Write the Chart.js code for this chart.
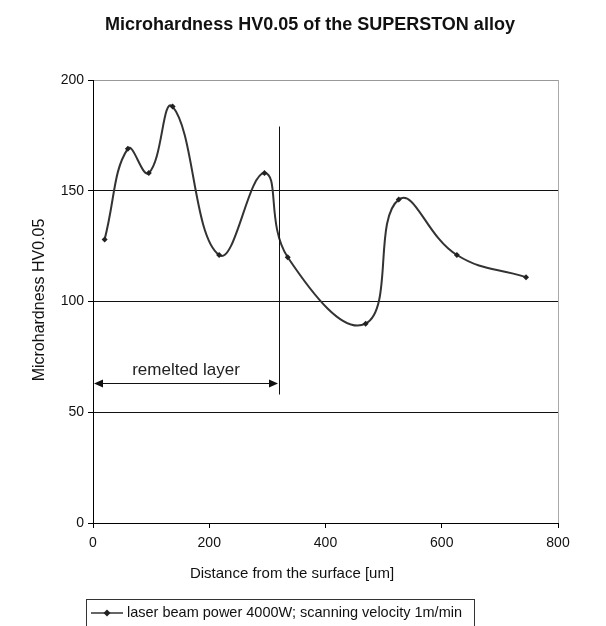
<!DOCTYPE html>
<html>
<head>
<meta charset="utf-8">
<script src="https://cdn.jsdelivr.net/npm/chart.js@4"></script>
<style>
  html, body { margin: 0; padding: 0; background: #fff; }
  #wrap { width: 606px; height: 626px; }
</style>
</head>
<body>
<div id="wrap"><canvas id="hvChart" width="606" height="626"></canvas></div>
<script>
// measured points: distance from surface [um] / microhardness HV0.05
const distance = [20, 60, 96, 137, 217, 295, 335, 469, 526, 626, 745];
const hardness = [128, 169, 158, 188, 121, 158, 120, 90, 146, 121, 111];

const xTicks = [0, 200, 400, 600, 800];
const yTicks = [0, 50, 100, 150, 200];

// remelted layer marker
const layerDepth = 320;
const layerLineTop = 179;
const layerLineBottom = 58;
const layerArrowY = 63;
const layerLabel = 'remelted layer';

const titleText = 'Microhardness HV0.05 of the SUPERSTON alloy';
const xTitle = 'Distance from the surface [um]';
const yTitle = 'Microhardness HV0.05';
const seriesLabel = 'laser beam power 4000W; scanning velocity 1m/min';

const FONT = 'Liberation Sans, Arial, sans-serif';

const decorPlugin = {
    id: 'decor',
    afterDatasetsDraw(chart) {
        const { ctx, scales: { x, y } } = chart;
        const xl = x.getPixelForValue(layerDepth);
        const x0 = x.getPixelForValue(0);
        const ya = y.getPixelForValue(layerArrowY);
        ctx.save();
        ctx.strokeStyle = '#111';
        ctx.fillStyle = '#111';
        ctx.lineWidth = 1;
        ctx.beginPath();
        ctx.moveTo(Math.round(xl) + 0.5, y.getPixelForValue(layerLineTop));
        ctx.lineTo(Math.round(xl) + 0.5, y.getPixelForValue(layerLineBottom));
        ctx.stroke();
        ctx.beginPath();
        ctx.moveTo(x0 + 2, Math.round(ya) + 0.5);
        ctx.lineTo(xl - 2, Math.round(ya) + 0.5);
        ctx.stroke();
        ctx.beginPath();
        ctx.moveTo(x0 + 1, ya); ctx.lineTo(x0 + 10, ya - 4); ctx.lineTo(x0 + 10, ya + 4); ctx.closePath(); ctx.fill();
        ctx.beginPath();
        ctx.moveTo(xl - 1, ya); ctx.lineTo(xl - 10, ya - 4); ctx.lineTo(xl - 10, ya + 4); ctx.closePath(); ctx.fill();
        ctx.font = '17px ' + FONT;
        ctx.textAlign = 'center';
        ctx.textBaseline = 'bottom';
        ctx.fillStyle = '#222';
        ctx.fillText(layerLabel, (x0 + xl) / 2, ya - 5);
        ctx.restore();
    },
    afterDraw(chart) {
        const { ctx } = chart;
        ctx.save();
        ctx.fillStyle = '#111';
        ctx.textAlign = 'center';
        ctx.textBaseline = 'middle';
        // title
        ctx.font = 'bold 18px ' + FONT;
        ctx.fillText(titleText, 310, 25);
        // axis titles
        ctx.font = '15px ' + FONT;
        ctx.fillText(xTitle, 292, 574);
        ctx.save();
        ctx.translate(40, 300);
        ctx.rotate(-Math.PI / 2);
        ctx.font = '16px ' + FONT;
        ctx.fillText(yTitle, 0, 0);
        ctx.restore();
        // legend box
        const lx = 86, ly = 599, lw = 388, lh = 30;
        ctx.strokeStyle = '#333';
        ctx.lineWidth = 1;
        ctx.strokeRect(lx + 0.5, ly + 0.5, lw, lh);
        const my = 613;
        ctx.lineWidth = 1.5;
        ctx.beginPath(); ctx.moveTo(lx + 5, my); ctx.lineTo(lx + 37, my); ctx.stroke();
        ctx.fillStyle = '#222';
        ctx.beginPath();
        ctx.moveTo(lx + 21, my - 3.5); ctx.lineTo(lx + 24.5, my); ctx.lineTo(lx + 21, my + 3.5); ctx.lineTo(lx + 17.5, my);
        ctx.closePath(); ctx.fill();
        ctx.textAlign = 'left';
        ctx.font = '14.5px ' + FONT;
        ctx.fillStyle = '#111';
        ctx.fillText(seriesLabel, lx + 41, my);
        ctx.restore();
    }
};

new Chart(document.getElementById('hvChart').getContext('2d'), {
    type: 'line',
    data: {
        datasets: [{
            label: seriesLabel,
            data: distance.map((d, i) => ({ x: d, y: hardness[i] })),
            borderColor: '#333',
            backgroundColor: '#222',
            borderWidth: 2,
            tension: 0.45,
            pointStyle: 'rectRot',
            pointRadius: 3,
            pointBorderWidth: 0,
            fill: false
        }]
    },
    options: {
        responsive: false,
        animation: false,
        layout: { padding: { left: 0, right: 48, top: 80, bottom: 0 } },
        plugins: {
            title: { display: false },
            legend: { display: false },
            tooltip: { enabled: false }
        },
        scales: {
            x: {
                type: 'linear',
                min: 0, max: 800,
                afterBuildTicks: (s) => { s.ticks = xTicks.map(v => ({ value: v })); },
                afterFit: (s) => { s.height = 103; },
                border: { color: '#000', width: 1 },
                grid: {
                    color: (c) => c.tick && c.tick.value === 800 ? '#aaa' : 'rgba(0,0,0,0)',
                    tickColor: '#000',
                    tickLength: 5
                },
                ticks: { color: '#111', font: { family: FONT, size: 14 }, padding: 7 }
            },
            y: {
                min: 0, max: 200,
                afterBuildTicks: (s) => { s.ticks = yTicks.map(v => ({ value: v })); },
                afterFit: (s) => { s.width = 93; },
                border: { color: '#000', width: 1 },
                grid: {
                    color: (c) => c.tick && c.tick.value === 200 ? '#999' : '#111',
                    tickColor: '#000',
                    tickLength: 5
                },
                ticks: { color: '#111', font: { family: FONT, size: 14 }, padding: 4 }
            }
        }
    },
    plugins: [decorPlugin]
});
</script>
</body>
</html>
